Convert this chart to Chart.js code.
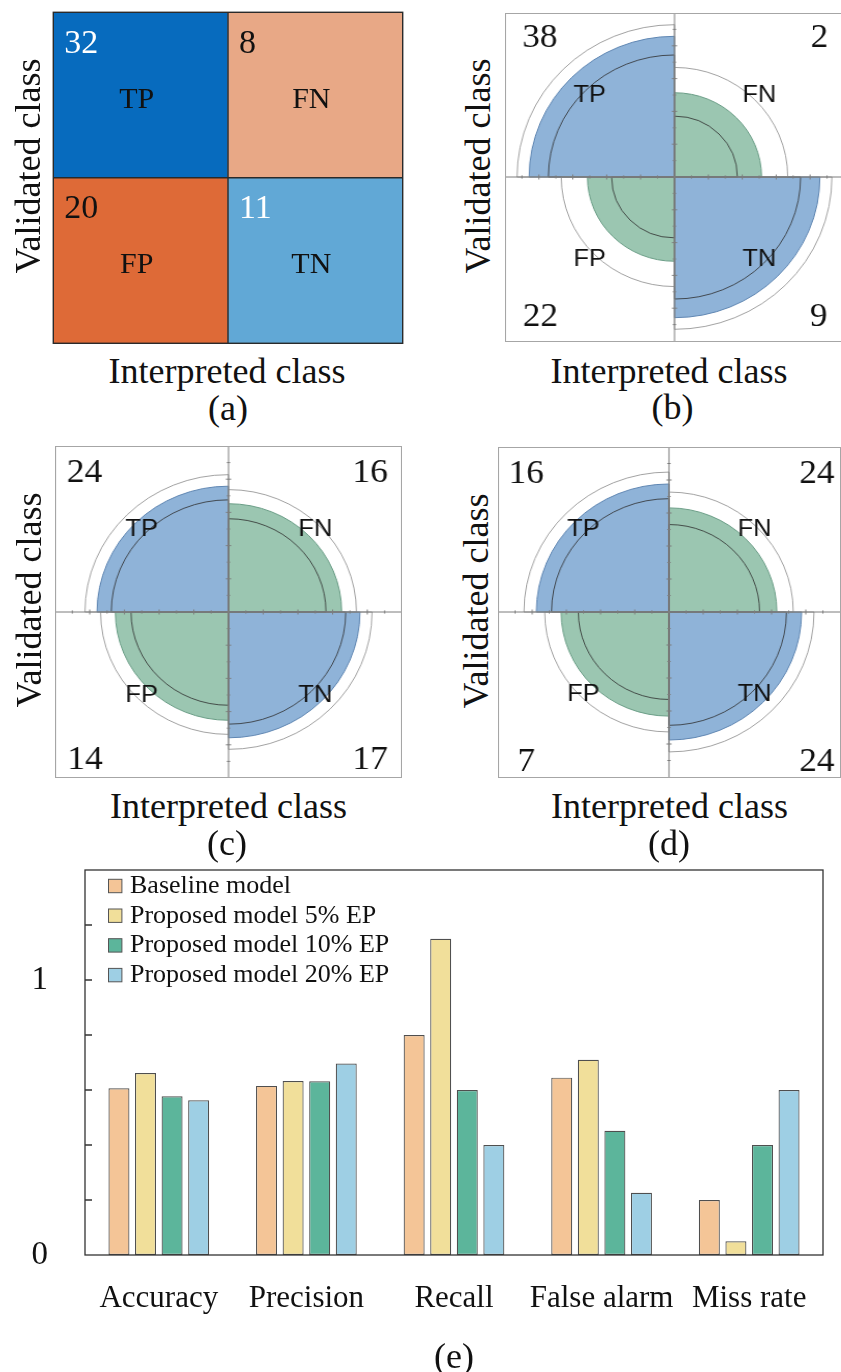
<!DOCTYPE html>
<html lang="en">
<head>
<meta charset="utf-8">
<title>Confusion matrices and detection scores</title>
<script src="https://cdn.jsdelivr.net/npm/chart.js@4.4.1/dist/chart.umd.min.js"></script>
<style>
  html, body { margin: 0; padding: 0; background: #fff; }
  body { width: 841px; height: 1372px; overflow: hidden; }
  #page { position: relative; width: 841px; height: 1372px; font-family: 'Liberation Serif', 'Times New Roman', serif; color: #111; }
  .label { position: absolute; white-space: nowrap; line-height: 1; font-size: 36px; transform: translate(-50%, -50%); }
  .label.vertical { transform: translate(-50%, -50%) rotate(-90deg); }
  .holder { position: absolute; transform-origin: 0 0; }
  .holder canvas { display: block; }
</style>
</head>
<body>
<div id="page"></div>
<script>
// ---- data -------------------------------------------------------------
// confusion counts, always in the order TP, FN, FP, TN
const quadrantNames = ['TP', 'FN', 'FP', 'TN'];
const countsBaseline = [32, 8, 20, 11];
const countsEP5 = [38, 2, 22, 9];
const countsEP10 = [24, 16, 14, 17];
const countsEP20 = [16, 24, 7, 24];

// detection scores per model
const metricNames = ['Accuracy', 'Precision', 'Recall', 'False alarm', 'Miss rate'];
const seriesNames = ['Baseline model', 'Proposed model 5% EP', 'Proposed model 10% EP', 'Proposed model 20% EP'];
const baselineScores = [0.606, 0.615, 0.800, 0.645, 0.200];
const ep5Scores = [0.662, 0.633, 1.150, 0.710, 0.050];
const ep10Scores = [0.577, 0.632, 0.600, 0.452, 0.400];
const ep20Scores = [0.563, 0.696, 0.400, 0.226, 0.600];
const labelledScoreTicks = [0, 1];

// ---- styling ----------------------------------------------------------
const serif = "'Liberation Serif', 'Times New Roman', serif";
const sans = "'Liberation Sans', Arial, sans-serif";
Chart.defaults.font.family = serif;
Chart.defaults.color = '#111';
Chart.defaults.animation = false;
Chart.defaults.events = [];
Chart.defaults.plugins.legend.display = false;
Chart.defaults.plugins.tooltip.enabled = false;

const cellColors = { TP: '#076bbe', FN: '#e8a886', FP: '#de6a37', TN: '#61a8d6' };
const cellTextColors = { TP: '#ffffff', FN: '#111111', FP: '#111111', TN: '#ffffff' };
const agreeFill = '#8fb3d8', agreeEdge = '#5f86b2';
const disagreeFill = '#9bc6b1', disagreeEdge = '#6a9d86';
const seriesColors = ['#f4c597', '#f1df9a', '#5cb59b', '#9ecfe4'];

const page = document.getElementById('page');

function addCanvas(left, top, width, height, scaleX) {
  const holder = document.createElement('div');
  holder.className = 'holder';
  holder.style.left = left + 'px';
  holder.style.top = top + 'px';
  if (scaleX) holder.style.transform = 'scaleX(' + scaleX + ')';
  const c = document.createElement('canvas');
  c.width = width; c.height = height;
  c.style.width = width + 'px'; c.style.height = height + 'px';
  holder.appendChild(c);
  page.appendChild(holder);
  return c;
}

function addText(text, x, y, vertical) {
  const d = document.createElement('div');
  d.className = 'label' + (vertical ? ' vertical' : '');
  d.style.left = x + 'px';
  d.style.top = y + 'px';
  d.textContent = text;
  page.appendChild(d);
}

// ---- (a) confusion matrix ---------------------------------------------
const matrixDecor = {
  id: 'matrixDecor',
  afterDatasetsDraw(chart) {
    const { ctx, chartArea: a } = chart;
    ctx.save();
    chart.data.datasets.forEach((ds, di) => {
      chart.getDatasetMeta(di).data.forEach((bar, i) => {
        const left = bar.x - bar.width / 2;
        const top = Math.min(bar.y, bar.base);
        const bottom = Math.max(bar.y, bar.base);
        const name = ds.names[i];
        ctx.fillStyle = cellTextColors[name];
        ctx.font = '34px ' + serif;
        ctx.textAlign = 'left';
        ctx.textBaseline = 'alphabetic';
        ctx.fillText(String(ds.counts[i]), left + 11, top + 40.5);
        ctx.fillStyle = '#111';
        ctx.font = '30px ' + serif;
        ctx.textAlign = 'center';
        ctx.textBaseline = 'middle';
        ctx.fillText(name, bar.x - 4, (top + bottom) / 2 + 5);
      });
    });
    const xs = chart.scales.x, ys = chart.scales.y;
    const midX = (xs.getPixelForValue(0) + xs.getPixelForValue(1)) / 2;
    const midY = ys.getPixelForValue(1);
    ctx.strokeStyle = '#2a2a2a';
    ctx.lineWidth = 1.4;
    ctx.strokeRect(a.left, a.top, a.width, a.height);
    ctx.beginPath();
    ctx.moveTo(midX, a.top); ctx.lineTo(midX, a.bottom);
    ctx.moveTo(a.left, midY); ctx.lineTo(a.right, midY);
    ctx.stroke();
    ctx.restore();
  }
};

new Chart(addCanvas(0, 0, 420, 350), {
  type: 'bar',
  data: {
    labels: ['Positive', 'Negative'],
    datasets: [
      { label: 'Negative', names: ['FP', 'TN'], counts: [countsBaseline[2], countsBaseline[3]], data: [1, 1],
        backgroundColor: [cellColors.FP, cellColors.TN], borderWidth: 0, barPercentage: 1, categoryPercentage: 1 },
      { label: 'Positive', names: ['TP', 'FN'], counts: [countsBaseline[0], countsBaseline[1]], data: [1, 1],
        backgroundColor: [cellColors.TP, cellColors.FN], borderWidth: 0, barPercentage: 1, categoryPercentage: 1 }
    ]
  },
  options: {
    responsive: false,
    layout: { padding: { left: 53.3, top: 12.3, right: 17.3, bottom: 6.7 } },
    scales: {
      x: { display: false, stacked: true },
      y: { display: false, stacked: true, min: 0, max: 2 }
    }
  },
  plugins: [matrixDecor]
});

// ---- (b)-(d) fourfold plots ------------------------------------------
// Both margins are equalised (odds ratio kept), quadrant radius = sqrt(cell share);
// rings show the 95 % confidence bounds of the odds ratio.
function fourfoldRadii(counts) {
  const [a, b, c, d] = counts;
  const z = 1.959964;
  const logOR = Math.log((a * d) / (b * c));
  const se = Math.sqrt(1 / a + 1 / b + 1 / c + 1 / d);
  const diagShare = lor => { const s = Math.exp(lor / 2); return s / (1 + s); };
  const p = diagShare(logOR), lo = diagShare(logOR - z * se), hi = diagShare(logOR + z * se);
  // clockwise from the top: FN, TN, FP, TP
  return {
    fill: [Math.sqrt(1 - p), Math.sqrt(p), Math.sqrt(1 - p), Math.sqrt(p)],
    inner: [Math.sqrt(1 - hi), Math.sqrt(lo), Math.sqrt(1 - hi), Math.sqrt(lo)],
    outer: [Math.sqrt(1 - lo), Math.sqrt(hi), Math.sqrt(1 - lo), Math.sqrt(hi)]
  };
}

const fourfoldDecor = {
  id: 'fourfoldDecor',
  afterDatasetsDraw(chart, args, opts) {
    const { ctx } = chart;
    const r = chart.scales.r;
    const cx = r.xCenter, cy = r.yCenter, R = r.drawingArea;
    const W = chart.width, H = chart.height;
    ctx.save();
    ctx.strokeStyle = '#7d7d7d';
    ctx.lineWidth = 1;
    ctx.beginPath();
    ctx.moveTo(0, cy); ctx.lineTo(W, cy);
    ctx.moveTo(cx, 0); ctx.lineTo(cx, H);
    for (let j = 1; j <= 9; j++) {
      const dist = r.getDistanceFromCenterForValue(j / 10);
      const half = j % 2 === 0 ? 2.5 : 1.6;
      for (const s of [-1, 1]) {
        ctx.moveTo(cx + s * dist, cy - half); ctx.lineTo(cx + s * dist, cy + half);
        ctx.moveTo(cx - half, cy + s * dist); ctx.lineTo(cx + half, cy + s * dist);
      }
    }
    ctx.stroke();
    ctx.strokeStyle = '#a6a6a6';
    ctx.strokeRect(0.5, 0.5, W - 1, H - 1);

    // quadrant names
    ctx.fillStyle = '#111';
    ctx.font = '24.5px ' + sans;
    ctx.textAlign = 'center';
    ctx.textBaseline = 'middle';
    const sign = { TP: [-1, -1], FN: [1, -1], FP: [-1, 1], TN: [1, 1] };
    quadrantNames.forEach(n => {
      ctx.fillText(n, cx + sign[n][0] * 0.5 * R, cy + sign[n][1] * 0.5 * R);
    });

    // cell counts in the corners
    ctx.font = '34px ' + serif;
    opts.counts.forEach((v, i) => {
      const [px, py] = opts.corners[i];
      ctx.fillText(String(v), (px - opts.box.left) / opts.stretch, py - opts.box.top);
    });
    ctx.restore();
  }
};

const fourfoldPanels = [
  { counts: countsEP5, box: { left: 505, top: 13, width: 340, height: 329 },
    corners: [[540, 38], [819.5, 38], [540.5, 316.7], [818.7, 316.7]] },
  { counts: countsEP10, box: { left: 55, top: 446, width: 347, height: 332 },
    corners: [[84.5, 473], [370, 473], [85, 760], [370, 760]] },
  { counts: countsEP20, box: { left: 498, top: 447, width: 343, height: 331 },
    corners: [[526.3, 474.3], [817, 474.3], [526.3, 761.7], [817, 761.7]] }
];

fourfoldPanels.forEach(panel => {
  const { box } = panel;
  const stretch = box.width / box.height;
  const radii = fourfoldRadii(panel.counts);
  const faces = [disagreeFill, agreeFill, disagreeFill, agreeFill];
  const edges = [disagreeEdge, agreeEdge, disagreeEdge, agreeEdge];
  new Chart(addCanvas(box.left, box.top, box.height, box.height, stretch), {
    type: 'polarArea',
    data: {
      labels: ['FN', 'TN', 'FP', 'TP'],
      datasets: [
        { label: 'upper ring', data: radii.outer, backgroundColor: 'rgba(0,0,0,0)', borderColor: '#8a8a8a', borderWidth: 0.8 },
        { label: 'lower ring', data: radii.inner, backgroundColor: 'rgba(0,0,0,0)', borderColor: '#2e2e2e', borderWidth: 0.8 },
        { label: 'cells', data: radii.fill, backgroundColor: faces, borderColor: edges, borderWidth: 1 }
      ]
    },
    options: {
      responsive: false,
      layout: { padding: 0 },
      scales: { r: { display: false, min: 0, max: 1, startAngle: 0 } },
      plugins: { fourfoldDecor: { counts: panel.counts, corners: panel.corners, box, stretch } }
    },
    plugins: [fourfoldDecor]
  });
});

// ---- (e) score bars ----------------------------------------------------
const scoreFrame = {
  id: 'scoreFrame',
  afterDraw(chart) {
    const { ctx, chartArea: a } = chart;
    const ys = chart.scales.y;
    ctx.save();
    ctx.strokeStyle = '#333';
    ctx.lineWidth = 1.3;
    ctx.strokeRect(a.left, a.top, a.width, a.height);
    ctx.beginPath();
    ys.ticks.forEach(t => {
      if (t.value <= 0 || t.value >= ys.max - 1e-9) return;
      const y = ys.getPixelForValue(t.value);
      ctx.moveTo(a.left, y); ctx.lineTo(a.left + 7, y);
    });
    ctx.stroke();

    // legend inside the plot
    const rowStep = 29.7;
    ctx.font = '26px ' + serif;
    ctx.textAlign = 'left';
    ctx.textBaseline = 'middle';
    chart.data.datasets.forEach((ds, i) => {
      const y = a.top + 16 + i * rowStep;
      ctx.fillStyle = ds.backgroundColor;
      ctx.fillRect(a.left + 23.5, y - 6.7, 13.4, 13.4);
      ctx.strokeStyle = '#555';
      ctx.lineWidth = 1;
      ctx.strokeRect(a.left + 23.5, y - 6.7, 13.4, 13.4);
      ctx.fillStyle = '#111';
      ctx.fillText(ds.label, a.left + 45, y);
    });
    ctx.restore();
  }
};

const scoreSeries = [baselineScores, ep5Scores, ep10Scores, ep20Scores];
new Chart(addCanvas(0, 850, 841, 522), {
  type: 'bar',
  data: {
    labels: metricNames,
    datasets: seriesNames.map((name, i) => ({
      label: name,
      data: scoreSeries[i],
      backgroundColor: seriesColors[i],
      borderColor: 'rgba(60,60,60,0.9)',
      borderWidth: 1.2,
      borderSkipped: false,
      categoryPercentage: 0.72,
      barPercentage: 0.79
    }))
  },
  options: {
    responsive: false,
    layout: { padding: { left: 0, right: 18, top: 20, bottom: 0 } },
    scales: {
      x: {
        grid: { display: false },
        border: { display: false },
        ticks: { font: { size: 31 }, padding: 17, color: '#111', maxRotation: 0, minRotation: 0, autoSkip: false },
        afterFit: s => { s.height = 117; s.paddingLeft = 0; s.paddingRight = 0; }
      },
      y: {
        min: 0, max: 1.4,
        grid: { display: false },
        border: { display: false },
        ticks: {
          stepSize: 0.2, font: { size: 33 }, padding: 29, color: '#111', autoSkip: false,
          callback: v => {
            const t = labelledScoreTicks.find(k => Math.abs(k - v) < 1e-6);
            return t === undefined ? '' : String(t);
          }
        },
        afterFit: s => { s.width = 85; s.paddingTop = 0; s.paddingBottom = 0; }
      }
    }
  },
  plugins: [scoreFrame]
});

// ---- captions ----------------------------------------------------------
addText('Validated class', 28, 166, true);
addText('Interpreted class', 227, 371);
addText('(a)', 228, 407.5);

addText('Validated class', 478, 165.5, true);
addText('Interpreted class', 669, 371);
addText('(b)', 672.5, 407);

addText('Validated class', 29, 600, true);
addText('Interpreted class', 228.5, 806);
addText('(c)', 227, 843);

addText('Validated class', 476, 600.5, true);
addText('Interpreted class', 669.5, 806);
addText('(d)', 669, 843);

addText('(e)', 454, 1356);
</script>
</body>
</html>
